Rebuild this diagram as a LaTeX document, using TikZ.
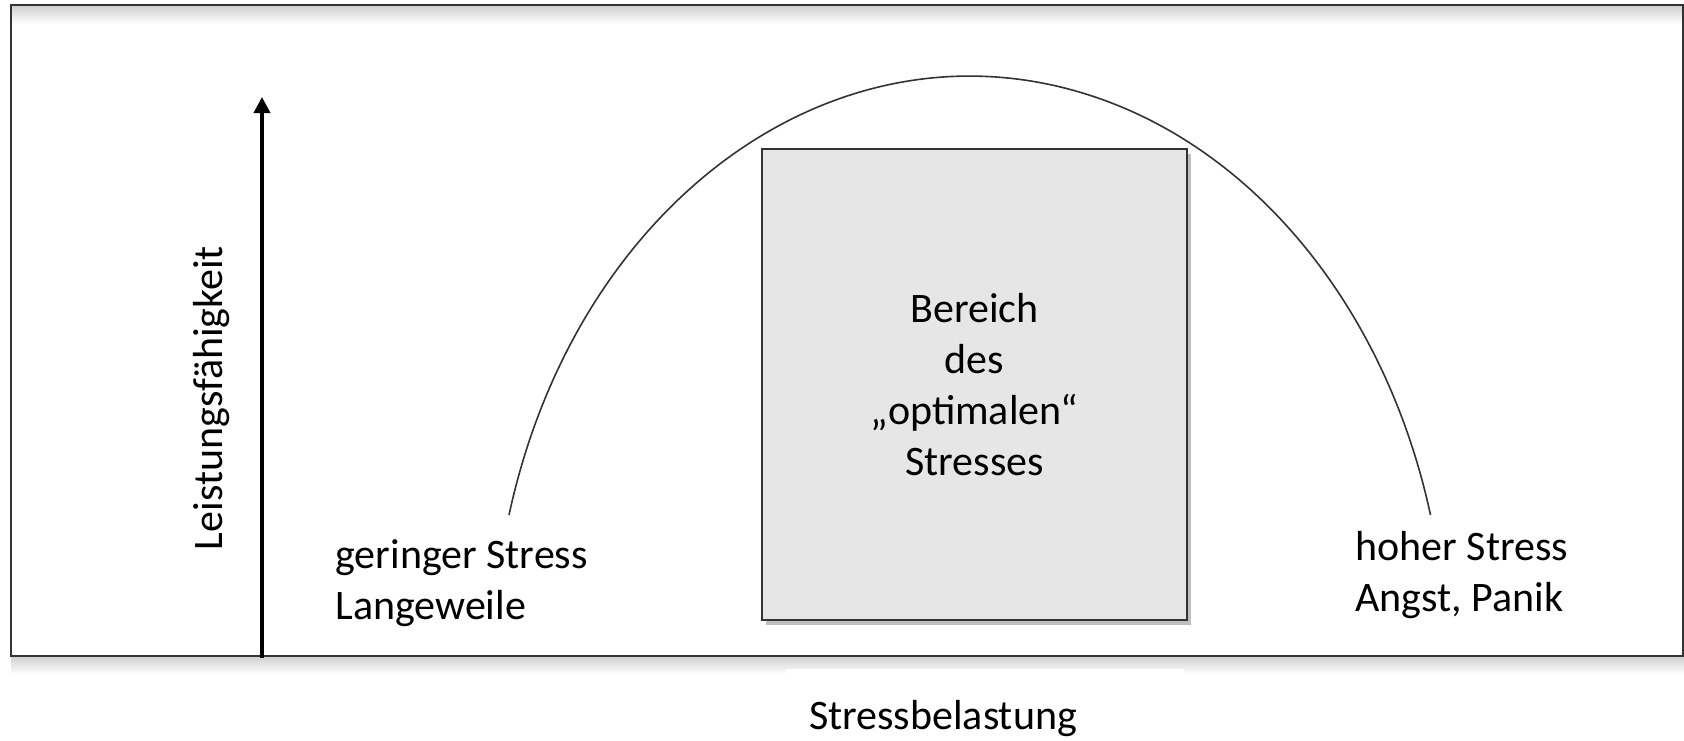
\documentclass[tikz,border=0pt]{standalone}
\usepackage{fontspec}
\setmainfont{Carlito}
\usepackage{tikz}
\usetikzlibrary{positioning,arrows.meta,shadows}

\definecolor{linegray}{HTML}{333333}
\definecolor{boxgray}{HTML}{E6E6E6}

\begin{document}
\begin{tikzpicture}[
  x=0.5pt, y=-0.5pt,
  font=\fontsize{21}{25.4}\selectfont,
  frame/.style={draw=linegray, line width=1pt},
  zone/.style={draw=linegray, line width=1pt, fill=boxgray, minimum width=212.5pt, minimum height=235.5pt, align=center, inner sep=0pt, drop shadow={shadow xshift=2pt, shadow yshift=-2.5pt, fill=black, opacity=0.25}},
  lbl/.style={align=left, inner sep=0pt},
  curve/.style={draw=linegray, line width=0.8pt},
  axis/.style={-{Triangle[width=8pt,length=8pt]}, line width=1.8pt}
]
  \useasboundingbox (0,0) rectangle (1684,740);
  % frame, soft shade under its edges
  \shade[top color=black!18, bottom color=white] (12,6) rectangle (1683,24);
  \shade[top color=black!18, bottom color=white] (11,657) rectangle (1684,674);
  \draw[frame] (11,5) rectangle (1683,656);
  \fill[white] (786,669) rectangle (1184,700);

  % performance curve
  \coordinate (lo) at (509,515);
  \draw[curve] (lo) arc[start angle=165, end angle=15, x radius=238.5pt, y radius=296pt];

  \node[zone] (opt) at (974.5,384.5) {Bereich\\des\\„optimalen“\\Stresses};

  % axis
  \coordinate (o) at (262,658);
  \coordinate (top) at (262,97);
  \draw[axis] (o) -- (top);
  \node[rotate=90, anchor=base] (perf) at (222,398) {Leistungsfähigkeit};
  \node[anchor=base] (load) at (943,729) {Stressbelastung};

  % base = last line
  \node[lbl, anchor=base west] (low) at (335,619) {geringer Stress\\Langeweile};
  \node[lbl, anchor=base west] (high) at (1355,611) {hoher Stress\\Angst, Panik};
\end{tikzpicture}
\end{document}
